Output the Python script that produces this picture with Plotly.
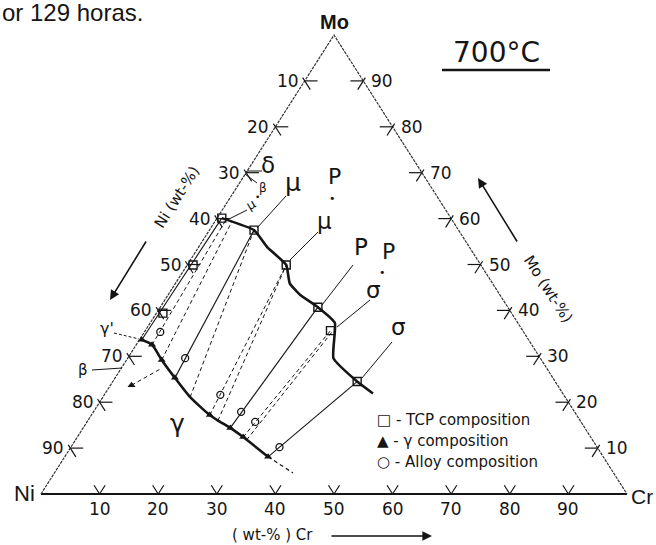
import plotly.graph_objects as go

W, H = 656, 545

# ---------------- data: compositions in wt-% (Cr, Mo); Ni = balance ----------------
tick_values = [10, 20, 30, 40, 50, 60, 70, 80, 90]
tick_labels = ["10", "20", "30", "40", "50", "60", "70", "80", "90"]

# TCP phase boundary (thick line)
tcp_cr = [0.8, 7.6, 11.7, 16.9, 19.5, 22.5, 26.9, 31.5, 35.1, 41.7, 45.7]
tcp_mo = [60.1, 57.5, 53.8, 49.9, 45.9, 43.4, 40.7, 37.3, 29.6, 24.5, 21.9]

# gamma solvus (thick line) and its dashed extrapolation
gamma_cr = [0.4, 2.7, 6.0, 10.2, 14.9, 20.2, 22.2, 25.1, 28.3, 34.7]
gamma_mo = [33.6, 32.5, 29.2, 25.3, 21.1, 17.2, 16.0, 14.4, 12.4, 8.1]
gamma_ext_cr = [34.7, 40.7]
gamma_ext_mo = [8.1, 4.6]

# tie lines: gamma end -> TCP end
tie_g_cr = [0.4, 2.7, 6.0, 10.2, 14.9, 20.2, 22.2, 25.1, 28.3, 29.2, 34.7, 3.6]
tie_g_mo = [33.6, 32.5, 29.2, 25.3, 21.1, 17.2, 16.0, 14.4, 12.4, 11.8, 8.1, 23.7]
tie_t_cr = [0.8, 1.7, 2.9, 7.6, 7.6, 16.9, 16.9, 26.9, 31.6, 32.0, 41.7, 6.9]
tie_t_mo = [60.1, 59.7, 59.3, 57.5, 57.5, 49.9, 49.9, 40.7, 35.6, 35.2, 24.5, 27.4]
tie_dashed = [False, True, True, False, True, True, True, False, True, True, False, True]

# measured points
tcp_pts_cr = [0.8, 7.6, 16.9, 26.9, 31.6, 41.7, 1.0, 1.1]
tcp_pts_mo = [60.1, 57.5, 49.9, 40.7, 35.6, 24.5, 49.9, 39.4]
gam_pts_cr = [0.4, 2.7, 6.0, 10.2, 20.2, 25.1, 28.3, 34.7, 3.6]
gam_pts_mo = [33.6, 32.5, 29.2, 25.3, 17.2, 14.4, 12.4, 8.1, 23.7]
alloy_cr = [2.7, 9.8, 19.8, 25.2, 28.7, 35.6]
alloy_mo = [35.3, 29.6, 21.6, 17.9, 15.7, 10.2]

# ---------------- geometry ----------------
PX0, PY0 = 41.0, 494.0   # Ni corner in pixels
SX, SY = 5.86, 4.59      # pixels per wt-%


def tx(cr, mo):
    return cr + mo / 2.0


def segs(pairs):
    xs, ys = [], []
    for (c1, m1), (c2, m2) in pairs:
        xs += [tx(c1, m1), tx(c2, m2), None]
        ys += [m1, m2, None]
    return xs, ys


def P(px, py):
    return px / W, 1 - py / H


fig = go.Figure()
INK = "#151515"

# triangle frame
fig.add_trace(go.Scatter(x=[tx(0, 0), tx(100, 0)], y=[0, 0], mode="lines",
                         line=dict(color=INK, width=2.2), hoverinfo="skip"))
fig.add_trace(go.Scatter(x=[tx(0, 0), tx(0, 100), tx(100, 0)], y=[0, 100, 0], mode="lines",
                         line=dict(color="#333", width=1.2, dash="3px,1px"), hoverinfo="skip"))

# tick marks (grid stubs)
d, e = 1.9, 0.7
pairs = []
for v in tick_values:
    pairs.append(((v, 0), (v, d)))
    pairs.append(((v, 0), (v - d, d)))
    m = 100 - v
    pairs.append(((0, m), (2.2, m)))
    pairs.append(((-e, m + e), (d, m - d)))
    pairs.append(((100 - v, v), (100 - v - 2.2, v)))
    pairs.append(((100 - v, v + e), (100 - v, v - d)))
xs, ys = segs(pairs)
fig.add_trace(go.Scatter(x=xs, y=ys, mode="lines", line=dict(color=INK, width=1.2), hoverinfo="skip"))

# tie lines
sol = [((a, b), (c, dd)) for a, b, c, dd, k in zip(tie_g_cr, tie_g_mo, tie_t_cr, tie_t_mo, tie_dashed) if not k]
das = [((a, b), (c, dd)) for a, b, c, dd, k in zip(tie_g_cr, tie_g_mo, tie_t_cr, tie_t_mo, tie_dashed) if k]
xs, ys = segs(sol)
fig.add_trace(go.Scatter(x=xs, y=ys, mode="lines", line=dict(color=INK, width=1.1), hoverinfo="skip"))
xs, ys = segs(das)
fig.add_trace(go.Scatter(x=xs, y=ys, mode="lines", line=dict(color=INK, width=1.0, dash="4px,3px"), hoverinfo="skip"))

# phase boundaries
fig.add_trace(go.Scatter(x=[tx(c, m) for c, m in zip(tcp_cr, tcp_mo)], y=tcp_mo, mode="lines",
                         line=dict(color=INK, width=2.6, shape="spline", smoothing=0.4), hoverinfo="skip"))
fig.add_trace(go.Scatter(x=[tx(c, m) for c, m in zip(gamma_cr, gamma_mo)], y=gamma_mo, mode="lines",
                         line=dict(color=INK, width=2.6, shape="spline", smoothing=0.6), hoverinfo="skip"))
fig.add_trace(go.Scatter(x=[tx(c, m) for c, m in zip(gamma_ext_cr, gamma_ext_mo)], y=gamma_ext_mo, mode="lines",
                         line=dict(color=INK, width=1.2, dash="4px,3px"), hoverinfo="skip"))

# markers
fig.add_trace(go.Scatter(x=[tx(c, m) for c, m in zip(tcp_pts_cr, tcp_pts_mo)], y=tcp_pts_mo, mode="markers",
                         marker=dict(symbol="square-open", size=8, color=INK, line=dict(width=1.4)), hoverinfo="skip"))
fig.add_trace(go.Scatter(x=[tx(c, m) for c, m in zip(gam_pts_cr, gam_pts_mo)], y=gam_pts_mo, mode="markers",
                         marker=dict(symbol="triangle-up", size=7, color=INK), hoverinfo="skip"))
fig.add_trace(go.Scatter(x=[tx(c, m) for c, m in zip(alloy_cr, alloy_mo)], y=alloy_mo, mode="markers",
                         marker=dict(symbol="circle-open", size=7, color=INK, line=dict(width=1.3)), hoverinfo="skip"))

ann = []
FT = "DejaVu Sans"


def text(px, py, s, size, angle=0, xanchor="center", family=FT):
    x, y = P(px, py)
    ann.append(dict(x=x, y=y, xref="paper", yref="paper", text=s, showarrow=False,
                    font=dict(family=family, size=size, color=INK), textangle=angle,
                    xanchor=xanchor, yanchor="middle"))


def arrow(hx, hy, tx_, ty_, head=2):
    x, y = P(hx, hy)
    ann.append(dict(x=x, y=y, xref="paper", yref="paper", ax=tx_ - hx, ay=ty_ - hy, text="",
                    showarrow=True, arrowhead=head, arrowsize=1.2, arrowwidth=1.6, arrowcolor=INK,
                    standoff=0, startstandoff=0))


# tick labels through data coordinates
for v, lab in zip(tick_values, tick_labels):
    ann.append(dict(x=tx(v, 0), y=0, xref="x", yref="y", text=lab, showarrow=False,
                    font=dict(family=FT, size=17, color=INK), yshift=-15, xanchor="center", yanchor="middle"))
    ann.append(dict(x=tx(0, 100 - v), y=100 - v, xref="x", yref="y", text=lab, showarrow=False,
                    font=dict(family=FT, size=17, color=INK), xshift=-4, xanchor="right", yanchor="middle"))
    ann.append(dict(x=tx(100 - v, v), y=v, xref="x", yref="y", text=lab, showarrow=False,
                    font=dict(family=FT, size=17, color=INK), xshift=6, xanchor="left", yanchor="middle"))

# corner names
text(335, 22, "<b>Mo</b>", 20, family="Liberation Sans")
text(24, 493, "Ni", 22, family="Liberation Sans")
text(642, 496, "Cr", 21, family="Liberation Sans")

# captions
text(0, 13, "or 129 horas.", 24, xanchor="left", family="Liberation Sans")
text(497, 53, "700°C", 28)

# axis titles + arrows
text(177, 197, "Ni (wt-%)", 15, angle=-57.6)
arrow(110, 300, 147, 240)
text(548, 289, "Mo (wt-%)", 15, angle=57.3)
arrow(478, 178, 518, 243)
text(272, 535, "( wt-% ) Cr", 15)
arrow(432, 536, 330, 536)

# phase labels
text(268, 165, "δ", 23)
text(263, 188, "β", 12)
text(257, 197, "•", 9)
text(251, 205, "μ", 13, angle=-30)
text(293, 182, "μ", 25)
text(335, 177, "P", 22)
text(333, 198, "•", 11)
text(324, 221, "μ", 23)
text(361, 247, "P", 23)
text(388, 251, "P", 22)
text(382, 272, "•", 11)
text(373, 290, "σ", 23)
text(398, 327, "σ", 23)
text(107, 328, "γ'", 16)
text(83, 370, "β", 15)
text(177, 423, "γ", 25)

# legend block
text(375, 420, "□ - TCP composition", 15, xanchor="left")
text(375, 441, "▲ - γ composition", 15, xanchor="left")
text(375, 462, "○ - Alloy composition", 15, xanchor="left")

# leader lines and underline
shapes = []
leaders = [(247, 171, 262, 171), (245, 174, 257, 183), (247, 210, 229, 219), (286, 196, 257, 228),
           (318, 232, 290, 260), (353, 265, 322, 305), (370, 300, 337, 327), (392, 342, 362, 378),
           (92, 370, 122, 368)]
for x0, y0, x1, y1 in leaders:
    a, b = P(x0, y0)
    c, dd = P(x1, y1)
    shapes.append(dict(type="line", xref="paper", yref="paper", x0=a, y0=b, x1=c, y1=dd,
                       line=dict(color=INK, width=1)))
a, b = P(114, 333)
c, dd = P(139, 339)
shapes.append(dict(type="line", xref="paper", yref="paper", x0=a, y0=b, x1=c, y1=dd,
                   line=dict(color=INK, width=1, dash="3px,2px")))
a, b = P(442, 70)
c, dd = P(550, 70)
shapes.append(dict(type="line", xref="paper", yref="paper", x0=a, y0=b, x1=c, y1=dd,
                   line=dict(color=INK, width=2.5)))

fig.update_layout(
    width=W, height=H, margin=dict(l=0, r=0, t=0, b=0),
    paper_bgcolor="white", plot_bgcolor="white", showlegend=False,
    xaxis=dict(range=[-PX0 / SX, (W - PX0) / SX], visible=False, fixedrange=True),
    yaxis=dict(range=[-(H - PY0) / SY, PY0 / SY], visible=False, fixedrange=True),
    annotations=ann, shapes=shapes,
)
fig.write_html("out.html")
